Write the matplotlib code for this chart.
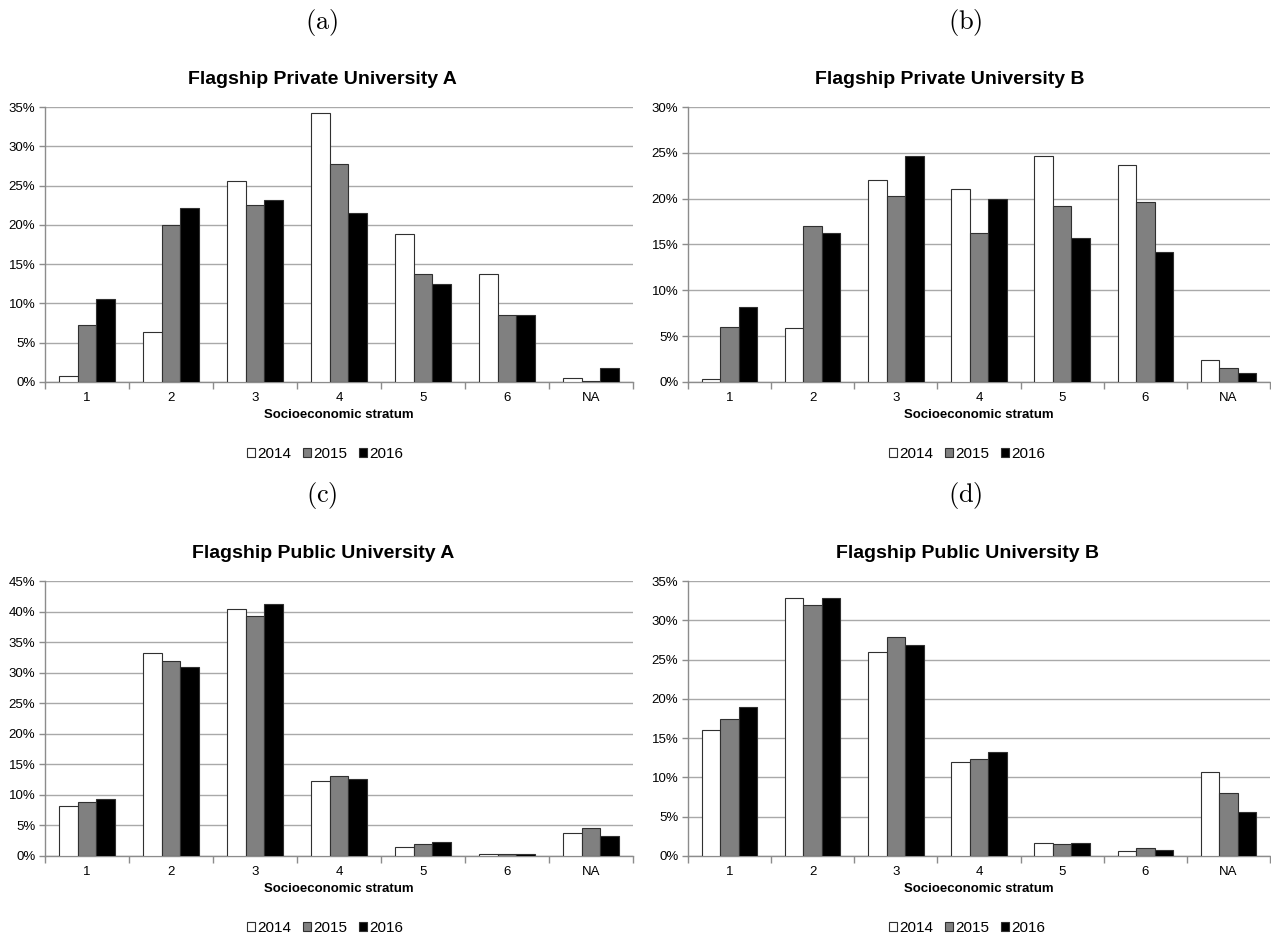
import matplotlib
matplotlib.use("Agg")
import matplotlib.pyplot as plt
import numpy as np
from matplotlib.patches import Patch
from matplotlib.ticker import FuncFormatter, MultipleLocator

plt.rcParams['font.family'] = ['Liberation Sans', 'DejaVu Sans']
plt.rcParams['mathtext.fontset'] = 'cm'

categories = ["1", "2", "3", "4", "5", "6", "NA"]
years = ["2014", "2015", "2016"]
year_colors = ["#ffffff", "#808080", "#000000"]

# Share of admitted students by socioeconomic stratum (%)
private_a = {
    "2014": [0.7, 6.3, 25.6, 34.3, 18.8, 13.7, 0.5],
    "2015": [7.2, 20.0, 22.5, 27.8, 13.7, 8.5, 0.15],
    "2016": [10.5, 22.1, 23.2, 21.5, 12.5, 8.5, 1.75],
}
private_b = {
    "2014": [0.3, 5.9, 22.0, 21.1, 24.7, 23.7, 2.35],
    "2015": [6.0, 17.0, 20.3, 16.3, 19.2, 19.6, 1.55],
    "2016": [8.2, 16.2, 24.7, 20.0, 15.7, 14.2, 1.0],
}
public_a = {
    "2014": [8.2, 33.2, 40.5, 12.3, 1.4, 0.3, 3.7],
    "2015": [8.8, 31.9, 39.3, 13.1, 2.0, 0.25, 4.6],
    "2016": [9.3, 31.0, 41.3, 12.6, 2.3, 0.25, 3.2],
}
public_b = {
    "2014": [16.0, 32.9, 26.0, 12.0, 1.7, 0.7, 10.7],
    "2015": [17.4, 31.9, 27.9, 12.3, 1.5, 1.0, 8.0],
    "2016": [19.0, 32.9, 26.8, 13.3, 1.6, 0.8, 5.6],
}

W, H = 1271, 941
fig = plt.figure(figsize=(W / 100, H / 100), dpi=100)


def fx(px):
    return px / W


def fy(py):
    return 1 - py / H


panels = [
    # data, title, letter, ymax, axes box (px: left, right, top, bottom), text x-centres
    (private_a, "Flagship Private University A", "(a)", 35, (45, 633, 107, 382), 322, 322, 325, 0),
    (private_b, "Flagship Private University B", "(b)", 30, (688, 1270, 107, 382), 950, 965, 967, 0),
    (public_a, "Flagship Public University A", "(c)", 45, (45, 633, 581, 856), 323, 322, 325, 474),
    (public_b, "Flagship Public University B", "(d)", 35, (688, 1270, 581, 856), 967, 965, 967, 474),
]

grid_c = "#a9a9a9"
spine_c = "#8c8c8c"
bar_w = 1 / 4.5

for data, title, letter, ymax, (l, r, t, b), tx, lx, legx, dy in panels:
    ax = fig.add_axes([fx(l), fy(b), fx(r - l), fy(t) - fy(b)])
    x = np.arange(len(categories))
    for i, yr in enumerate(years):
        ax.bar(x + (i - 1) * bar_w, data[yr], width=bar_w, color=year_colors[i],
               edgecolor="#303030", linewidth=0.8, zorder=3)
    ax.set_xlim(-0.5, len(categories) - 0.5)
    ax.set_ylim(0, ymax)
    ax.yaxis.set_major_locator(MultipleLocator(5))
    ax.yaxis.set_major_formatter(FuncFormatter(lambda v, p: f"{v:.0f}%"))
    ax.grid(axis="y", color=grid_c, linewidth=1.0, zorder=0)
    ax.set_axisbelow(True)
    ax.set_xticks(x)
    ax.set_xticklabels(categories)
    ax.set_xticks(np.arange(-0.5, len(categories)), minor=True)
    ax.tick_params(axis="x", which="major", length=0, labelsize=9.5, pad=7)
    ax.tick_params(axis="x", which="minor", length=5, color=spine_c, width=1)
    ax.tick_params(axis="y", length=4, color=spine_c, width=1, labelsize=9.5, pad=3)
    for s in ("top", "right"):
        ax.spines[s].set_visible(False)
    for s in ("left", "bottom"):
        ax.spines[s].set_color(spine_c)
        ax.spines[s].set_linewidth(1.0)
    ax.set_xlabel("Socioeconomic stratum", fontsize=9.5, fontweight="bold", labelpad=4)

    fig.text(fx(lx), fy(22 + dy), r"$\mathrm{" + letter + "}$", ha="center", va="center",
             fontsize=19)
    fig.text(fx(tx), fy(80 + dy), title, ha="center", va="center", fontsize=14,
             fontweight="bold")

    handles = [Patch(facecolor=c, edgecolor="#303030", linewidth=0.8) for c in year_colors]
    fig.legend(handles, years, loc="center", bbox_to_anchor=(fx(legx), fy(454 + dy)),
               ncol=3, frameon=False, fontsize=11, handlelength=0.5, handleheight=0.5,
               handletextpad=0.15, columnspacing=0.8, borderpad=0)

fig.savefig("out.png", dpi=100)
